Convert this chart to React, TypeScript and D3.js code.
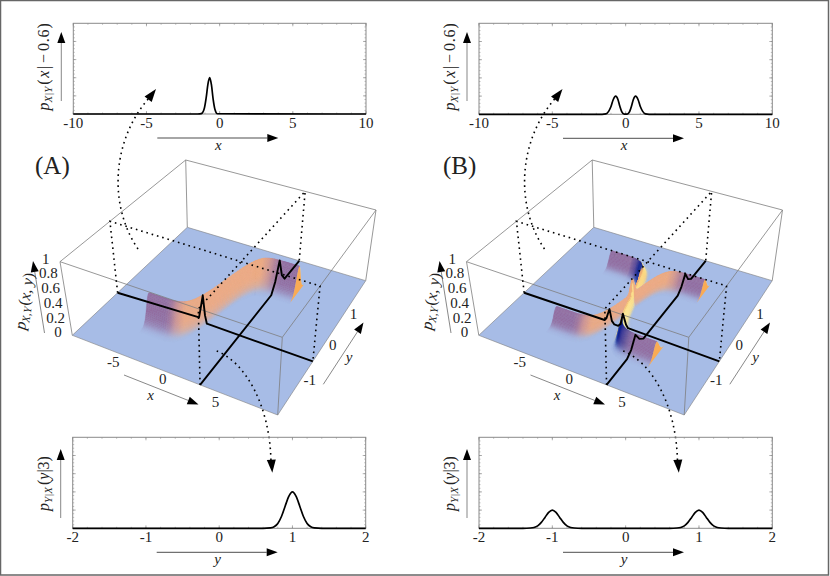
import React from "react";
import * as d3 from "d3";

// ---- data ----
const xTickLabels = [-10, -5, 0, 5, 10];
const yTickLabels = [-2, -1, 0, 1, 2];
const floorXTicks = [-5, 0, 5];
const floorYTicks = [-1, 0, 1];
const zTicks = [0, 0.2, 0.4, 0.6, 0.8, 1];

const condXA_x = [-10, -1.5, -1.25, -1.05, -0.92, -0.8, -0.68, -0.56, -0.45, -0.32, -0.15, 10];
const condXA_p = [0, 0, 0.004, 0.06, 0.18, 0.33, 0.4, 0.32, 0.17, 0.05, 0.003, 0];
const condXB_x = [-10, -1.6, -1.35, -1.15, -1.0, -0.85, -0.68, -0.52, -0.4, -0.27, -0.1, 0.1, 0.27, 0.4, 0.52, 0.68, 0.85, 1.0, 1.15, 1.35, 1.6, 10];
const condXB_p = [0, 0, 0.005, 0.035, 0.085, 0.16, 0.2, 0.16, 0.09, 0.03, 0.002, 0.002, 0.03, 0.09, 0.16, 0.2, 0.16, 0.085, 0.035, 0.005, 0, 0];
const condYA_y = [-2, 0.6, 0.7, 0.75, 0.8, 0.85, 0.9, 0.95, 1, 1.05, 1.1, 1.15, 1.2, 1.25, 1.3, 1.4, 2];
const condYA_p = [0, 0, 0.005, 0.018, 0.054, 0.13, 0.243, 0.35, 0.4, 0.35, 0.243, 0.13, 0.054, 0.018, 0.005, 0, 0];
const condYB_y = [-2, -1.4, -1.3, -1.25, -1.2, -1.15, -1.1, -1.05, -1, -0.95, -0.9, -0.85, -0.8, -0.75, -0.7, -0.6, 0.6, 0.7, 0.75, 0.8, 0.85, 0.9, 0.95, 1, 1.05, 1.1, 1.15, 1.2, 1.25, 1.3, 1.4, 2];
const condYB_p = [0, 0, 0.003, 0.009, 0.027, 0.065, 0.12, 0.175, 0.2, 0.175, 0.12, 0.065, 0.027, 0.009, 0.003, 0, 0, 0.003, 0.009, 0.027, 0.065, 0.12, 0.175, 0.2, 0.175, 0.12, 0.065, 0.027, 0.009, 0.003, 0, 0];

// ridge of the density on the floor: y as a function of x
const ridgeX = [-8, -3.5, -3, -2.5, -2, -1.6, -1.3, -1, -0.8, -0.6, -0.4, -0.2, 0, 0.2, 0.4, 0.6, 0.8, 1, 1.3, 1.6, 2, 2.5, 3, 3.5, 8];
const ridgeY = [-1, -0.998, -0.995, -0.987, -0.964, -0.922, -0.862, -0.762, -0.664, -0.537, -0.38, -0.197, 0, 0.197, 0.38, 0.537, 0.664, 0.762, 0.862, 0.922, 0.964, 0.987, 0.995, 0.998, 1];
// cross-section of the ridge: height against distance from the crest
const profileD = [0, 0.015, 0.03, 0.045, 0.06, 0.075, 0.09, 0.105, 0.12, 0.135, 0.15, 0.165, 0.18, 0.195, 0.21, 0.23, 0.25, 0.275, 0.3, 0.33, 0.36, 0.4];
const profileH = [1, 0.989, 0.955, 0.904, 0.835, 0.755, 0.667, 0.576, 0.487, 0.402, 0.325, 0.256, 0.198, 0.149, 0.11, 0.075, 0.05, 0.03, 0.018, 0.009, 0.004, 0];
const peakA = 0.38;
const peakB = 0.19;
const surfaceXMin = -5;
const surfaceXMax = 5;

const floorColor = "#a7bce6";
const purple = "#926ea0";
const riseStopsX = [-8, -3, -2.5, -2, -1.4, 1.5, 2.1, 2.8, 3.5, 8];
const riseStopsC = [purple, purple, "#a67a9c", "#cf9493", "#eca985", "#eeaa82", "#d59a90", "#ab7d9b", purple, purple];
const fallFrontX = [-8, -2.7, -2.0, -1.55, -1.15, -0.9, 0, 0.8, 1.05, 1.35, 1.7, 2.4, 3.0, 8];
const fallFrontC = [purple, purple, "#5b4d9a", "#1a2a92", "#20389f", "#eeb074", "#f0a976", "#f9dc86", "#2a49a8", "#101f8c", "#3c3a95", "#75609e", purple, purple];
const fallBackX = [-8, -2.6, -1.8, -0.8, 0, 1.2, 1.9, 8];
const fallBackC = ["#b9d2e4", "#b9d2e4", "#fdf0a0", "#fbd682", "#fcdf8c", "#fbf0a0", "#b9d2e4", "#b9d2e4"];
const riseBackC = "#bdd4e6";
const endFaceC = "#f9ab55";
const fadeIn = [0, 0.01, 0.025, 0.05, 0.08, 0.12, 0.17, 0.25, 0.35, 0.5, 1];
const fadeOut = [0, 0.05, 0.13, 0.26, 0.4, 0.56, 0.7, 0.84, 0.94, 1, 1];

const scanXA = [-10, -1.1, -0.9, -0.68, -0.48, -0.3, 10];
const scanXB = [-10, -1.2, -1.0, -0.68, -0.45, -0.2, 0.2, 0.45, 0.68, 1.0, 1.2, 10];
const scanYA = [-2, 0.7, 0.85, 1, 1.15, 1.3, 2];
const scanYB = [-2, -1.3, -1.15, -1, -0.85, -0.7, 0.7, 0.85, 1, 1.15, 1.3, 2];

const floorA: [number, number][] = [[72.3, 335.3], [277.7, 415], [365.7, 280.7], [187.3, 227.3]];
const topA: [number, number][] = [[60, 261.7], [282.3, 337.3], [376, 210], [185.7, 160]];
const panelShift = 406.5;

const GRAY = "#7d7d7d";
const SERIF = "'Liberation Serif', serif";

// ---- helpers ----
function homography(q: [number, number][]) {
  const [[x0, y0], [x1, y1], [x2, y2], [x3, y3]] = q;
  const dx1 = x1 - x2, dx2 = x3 - x2, sx = x0 - x1 + x2 - x3;
  const dy1 = y1 - y2, dy2 = y3 - y2, sy = y0 - y1 + y2 - y3;
  const den = dx1 * dy2 - dx2 * dy1;
  const g = (sx * dy2 - dx2 * sy) / den;
  const h = (dx1 * sy - sx * dy1) / den;
  const a = x1 - x0 + g * x1, b = x3 - x0 + h * x3;
  const d = y1 - y0 + g * y1, e = y3 - y0 + h * y3;
  return (u: number, v: number): [number, number] => {
    const w = g * u + h * v + 1;
    return [(a * u + b * v + x0) / w, (d * u + e * v + y0) / w];
  };
}
const uScale = d3.scaleLinear().domain([-10, 10]).range([0, 1]);
const vScale = d3.scaleLinear().domain([-2, 2]).range([0, 1]);
const floorH = homography(floorA);
const topH = homography(topA);
function project(x: number, y: number, z: number, shift: number): [number, number] {
  const u = uScale(x), v = vScale(y);
  const p = floorH(u, v), q = topH(u, v);
  return [p[0] + (q[0] - p[0]) * z + shift, p[1] + (q[1] - p[1]) * z];
}
const ridge = d3.scaleLinear().domain(ridgeX).range(ridgeY).clamp(true);
const profile = d3.scaleLinear().domain(profileD).range(profileH).clamp(true);
const riseColor = d3.scaleLinear<string>().domain(riseStopsX).range(riseStopsC).clamp(true);
const fallFront = d3.scaleLinear<string>().domain(fallFrontX).range(fallFrontC).clamp(true);
const fallBack = d3.scaleLinear<string>().domain(fallBackX).range(fallBackC).clamp(true);
const fade = d3.scaleLinear().domain(fadeIn).range(fadeOut).clamp(true);

function height(x: number, y: number, two: boolean) {
  if (x < surfaceXMin - 1e-6 || x > surfaceXMax + 1e-6) return 0;
  const r = ridge(x);
  if (!two) return peakA * profile(Math.abs(y - r));
  return peakB * (profile(Math.abs(y - r)) + profile(Math.abs(y + r)));
}
function cellColor(x: number, y: number, two: boolean) {
  const r = ridge(x);
  const wa = profile(Math.abs(y - r));
  const wb = two ? profile(Math.abs(y + r)) : 0;
  const w = Math.max(wa, wb);
  if (w <= 0.003) return null;
  let c: string;
  if (wa >= wb) c = y - r > 0.03 ? riseBackC : riseColor(x);
  else c = y + r > 0.03 ? fallBack(x) : fallFront(x);
  return d3.interpolateRgb(floorColor, c)(fade(w));
}
const stepFlat = 0.2, stepSteep = 0.05, stepY = 0.012;
const cellXs = [
  ...d3.range(surfaceXMin, -2.6, stepFlat),
  ...d3.range(-2.6, 2.6, stepSteep),
  ...d3.range(2.6, surfaceXMax + 0.001, stepFlat),
];
const cellYs = d3.range(1.42, -1.42, -stepY);
const poly = d3.line();

function surfaceCells(two: boolean, shift: number) {
  const cells: { d: string; c: string }[] = [];
  const rnd = (p: [number, number]) => [+p[0].toFixed(1), +p[1].toFixed(1)] as [number, number];
  for (const y of cellYs) {
    const y2 = y - stepY;
    for (let i = 0; i < cellXs.length - 1; i++) {
      const x = cellXs[i], x2 = cellXs[i + 1];
      const c = cellColor((x + x2) / 2, (y + y2) / 2, two);
      if (!c) continue;
      const pts = [
        project(x, y, height(x, y, two), shift),
        project(x2, y, height(x2, y, two), shift),
        project(x2, y2, height(x2, y2, two), shift),
        project(x, y2, height(x, y2, two), shift),
      ].map(rnd);
      cells.push({ d: poly(pts) + "Z", c });
    }
  }
  return cells;
}
function endFace(center: number, two: boolean, shift: number) {
  const ds = d3.range(-0.3, 0.3001, 0.03);
  const top = ds.map((d) => project(surfaceXMax, center + d, height(surfaceXMax, center + d, two), shift));
  const bot = [project(surfaceXMax, center - 0.3, 0, shift), project(surfaceXMax, center + 0.3, 0, shift)];
  return poly([...bot.slice(0, 1), ...top, bot[1]]) + "Z";
}

const Arrow = ({ x1, y1, x2, y2, c = "#000", w = 0.7, len = 11, wid = 8 }: any) => {
  const a = Math.atan2(y2 - y1, x2 - x1);
  const bx = x2 - len * Math.cos(a), by = y2 - len * Math.sin(a);
  const nx = -Math.sin(a) * wid / 2, ny = Math.cos(a) * wid / 2;
  return (
    <g>
      {w > 0 && <line x1={x1} y1={y1} x2={bx} y2={by} stroke={c} strokeWidth={w} />}
      <path d={`M${x2},${y2}L${bx + nx},${by + ny}L${bx - nx},${by - ny}Z`} fill="#000" />
    </g>
  );
};

const Sub = ({ children }: any) => <tspan fontSize={11} fontStyle="italic" dy={3}>{children}</tspan>;

function Plot2D({ x0, x1, y0, y1, domain, major, minor, labels, xs, ps, xlab, ylab, ax0, ax1 }: any) {
  const sx = d3.scaleLinear().domain(domain).range([x0, x1]);
  const sy = d3.scaleLinear().domain([0, 1]).range([y1, y0]);
  const line = d3.line<number>().x((_, i) => sx(xs[i])).y((d) => sy(d)).curve(d3.curveMonotoneX);
  const ymajor = d3.range(0.2, 1, 0.2);
  const yminor = d3.range(0.04, 1, 0.04);
  const xminor = d3.range(domain[0], domain[1] + 1e-6, minor);
  const xmajor = d3.range(domain[0], domain[1] + 1e-6, major);
  return (
    <g>
      {xminor.map((t: number, i: number) => (
        <g key={i} stroke={GRAY} strokeWidth={0.5}>
          <line x1={sx(t)} x2={sx(t)} y1={y0} y2={y0 + 1.5} />
          <line x1={sx(t)} x2={sx(t)} y1={y1} y2={y1 - 1.5} />
        </g>
      ))}
      {xmajor.map((t: number, i: number) => (
        <g key={i} stroke={GRAY} strokeWidth={0.6}>
          <line x1={sx(t)} x2={sx(t)} y1={y0} y2={y0 + 3} />
          <line x1={sx(t)} x2={sx(t)} y1={y1} y2={y1 - 3} />
        </g>
      ))}
      {yminor.map((t: number, i: number) => (
        <g key={i} stroke={GRAY} strokeWidth={0.5}>
          <line x1={x0} x2={x0 + 1.5} y1={sy(t)} y2={sy(t)} />
          <line x1={x1} x2={x1 - 1.5} y1={sy(t)} y2={sy(t)} />
        </g>
      ))}
      {ymajor.map((t: number, i: number) => (
        <g key={i} stroke={GRAY} strokeWidth={0.6}>
          <line x1={x0} x2={x0 + 3} y1={sy(t)} y2={sy(t)} />
          <line x1={x1} x2={x1 - 3} y1={sy(t)} y2={sy(t)} />
        </g>
      ))}
      <rect x={x0} y={y0} width={x1 - x0} height={y1 - y0} fill="none" stroke="#8a8a8a" strokeWidth={1} />
      <path d={line(ps) as string} fill="none" stroke="#000" strokeWidth={1.7} />
      {labels.map((t: number) => (
        <text key={t} x={sx(t)} y={y1 + 14} textAnchor="middle" fontSize={15} fontFamily={SERIF} fill="#222">{t}</text>
      ))}
      <Arrow x1={x0 + 84} y1={y1 + 24} x2={x0 + 205} y2={y1 + 24} />
      <text x={x0 + 145} y={y1 + 36} textAnchor="middle" fontSize={15} fontStyle="italic" fontFamily={SERIF} fill="#222">{xlab}</text>
      <Arrow x1={x0 - 12} y1={ax1} x2={x0 - 12} y2={ax0} c="#555" />
      <text transform={`translate(${x0 - 24},${(ax0 + ax1) / 2 - 0}) rotate(-90)`} textAnchor="middle" fontSize={16} fontFamily={SERIF} fill="#222">{ylab}</text>
    </g>
  );
}

function Panel3D({ two, shift, title }: any) {
  const P = (x: number, y: number, z: number) => project(x, y, z, shift);
  const seg = (pts: [number, number][]) => poly(pts) as string;
  const cells = surfaceCells(two, shift);
  const scanX = two ? scanXB : scanXA;
  const scanY = two ? scanYB : scanYA;
  const lineY = seg(scanX.map((x) => P(x, -0.6, height(x, -0.6, two))));
  const lineX = seg(scanY.map((y) => P(3, y, height(3, y, two))));
  const dots = { fill: "none", stroke: "#000", strokeWidth: 1.6, strokeDasharray: "1.6 3.9", strokeLinecap: "butt" } as const;
  const boxEdge = (a: [number, number], b: [number, number]) => seg([a, b]);
  const L = P(-10, -2, 0), F = P(10, -2, 0), R = P(10, 2, 0), B = P(-10, 2, 0);
  const Lt = P(-10, -2, 1), Ft = P(10, -2, 1), Rt = P(10, 2, 1), Bt = P(-10, 2, 1);
  const ends = two ? [1, -1] : [1];
  return (
    <g>
      <path d={[boxEdge(Bt, B), boxEdge(Lt, L), boxEdge(Rt, R)].join("")} stroke={GRAY} strokeWidth={0.8} fill="none" />
      <path d={seg([L, F, R, B]) + "Z"} fill={floorColor} stroke={GRAY} strokeWidth={0.6} />
      {cells.map((c, i) => <path key={i} d={c.d} fill={c.c} stroke={c.c} strokeWidth={0.3} />)}
      {ends.map((e: number) => <path key={e} d={endFace(e * ridge(surfaceXMax), two, shift)} fill={endFaceC} />)}
      <path d={[seg([Lt, Ft, Rt, Bt]) + "Z", boxEdge(Ft, F)].join("")} stroke={GRAY} strokeWidth={0.8} fill="none" />
      <path d={seg([P(-10, -0.6, 0), P(-10, -0.6, 1), P(10, -0.6, 1), P(10, -0.6, 0)])} {...dots} />
      <path d={seg([P(3, -2, 0), P(3, -2, 1), P(3, 2, 1), P(3, 2, 0)])} {...dots} />
      <path d={lineY} fill="none" stroke="#000" strokeWidth={1.9} strokeLinejoin="round" />
      <path d={lineX} fill="none" stroke="#000" strokeWidth={1.9} strokeLinejoin="round" />
      {zTicks.map((z) => {
        const p = P(-10, -2, z);
        return <text key={z} x={p[0] - 14.2} y={p[1] + 2} textAnchor="middle" fontSize={15} fontFamily={SERIF} fill="#222">{z}</text>;
      })}
      {floorXTicks.map((t) => {
        const p = P(t, -2, 0);
        return <text key={t} x={p[0] - 6} y={p[1] + (t === 0 ? 11.5 : 13.5)} textAnchor="middle" fontSize={15} fontFamily={SERIF} fill="#222">{t}</text>;
      })}
      {floorYTicks.map((t) => {
        const p = P(10, t, 0);
        return <text key={t} x={p[0] + 6.5} y={p[1] + 9.5} textAnchor="middle" fontSize={15} fontFamily={SERIF} fill="#222">{t}</text>;
      })}
      <Arrow x1={124 + shift} y1={375} x2={198.5 + shift} y2={404.5} c="#555" />
      <text x={150.5 + shift} y={399.5} textAnchor="middle" fontSize={15} fontStyle="italic" fontFamily={SERIF} fill="#222">x</text>
      <Arrow x1={323.3 + shift} y1={384.3} x2={363.5 + shift} y2={322.5} c="#555" />
      <text x={349 + shift} y={362} textAnchor="middle" fontSize={15} fontStyle="italic" fontFamily={SERIF} fill="#222">y</text>
      <Arrow x1={44.5 + shift} y1={333} x2={33 + shift} y2={261} c="#555" />
      <text transform={`translate(${29.5 + shift},${302}) rotate(-81)`} textAnchor="middle" fontSize={16} fontFamily={SERIF} fill="#222">
        <tspan fontStyle="italic">p</tspan><Sub>X,Y</Sub><tspan dy={-3} dx={1}>(</tspan><tspan fontStyle="italic">x, y</tspan>)
      </text>
      <path d={`M${138 + shift},249C${108 + shift},205 ${112 + shift},140 ${149 + shift},98`} {...dots} />
      <Arrow x1={148 + shift} y1={99.5} x2={156 + shift} y2={89} w={0} len={13} wid={9} />
      <path d={`M${216.7 + shift},351C${245 + shift},362 ${270 + shift},405 ${271 + shift},462`} {...dots} />
      <Arrow x1={271.4 + shift} y1={461} x2={272.3 + shift} y2={472.7} w={0} len={13} wid={9} />
      <text x={(two ? 443 : 35)} y={174} fontSize={25} fontFamily={SERIF} fill="#222">{title}</text>
    </g>
  );
}

const topLab = <><tspan fontStyle="italic">p</tspan><Sub>X|Y</Sub><tspan dy={-3} dx={2}>(</tspan><tspan fontStyle="italic" dx={1.5}>x</tspan><tspan dx={1.5}>|</tspan><tspan dx={3}>−</tspan><tspan dx={3} letterSpacing={0.8}>0.6)</tspan></>;
const botLab = <><tspan fontStyle="italic">p</tspan><Sub>Y|X</Sub><tspan dy={-3} dx={2}>(</tspan><tspan fontStyle="italic">y</tspan><tspan>|3)</tspan></>;

export default function App() {
  return (
    <svg width={830} height={576} style={{ position: "absolute", left: 0, top: 0, background: "#fff" }}>
      <g opacity={0.999}>
        <rect x={0.5} y={0.5} width={828} height={574.5} fill="#fff" stroke="#666" strokeWidth={1.5} />
        <Panel3D two={false} shift={0} title="(A)" />
        <Panel3D two={true} shift={panelShift} title="(B)" />
        <Plot2D x0={73.3} x1={366} y0={23.3} y1={114} domain={[-10, 10]} major={5} minor={1} labels={xTickLabels}
          xs={condXA_x} ps={condXA_p} xlab="x" ylab={topLab} ax0={32} ax1={101} />
        <Plot2D x0={479} x1={772.3} y0={23.3} y1={114.3} domain={[-10, 10]} major={5} minor={1} labels={xTickLabels}
          xs={condXB_x} ps={condXB_p} xlab="x" ylab={topLab} ax0={32} ax1={101} />
        <Plot2D x0={72.7} x1={365.7} y0={437.3} y1={528.3} domain={[-2, 2]} major={1} minor={0.2} labels={yTickLabels}
          xs={condYA_y} ps={condYA_p} xlab="y" ylab={botLab} ax0={449} ax1={518} />
        <Plot2D x0={479} x1={772.3} y0={437.3} y1={528.3} domain={[-2, 2]} major={1} minor={0.2} labels={yTickLabels}
          xs={condYB_y} ps={condYB_p} xlab="y" ylab={botLab} ax0={449} ax1={518} />
      </g>
    </svg>
  );
}
